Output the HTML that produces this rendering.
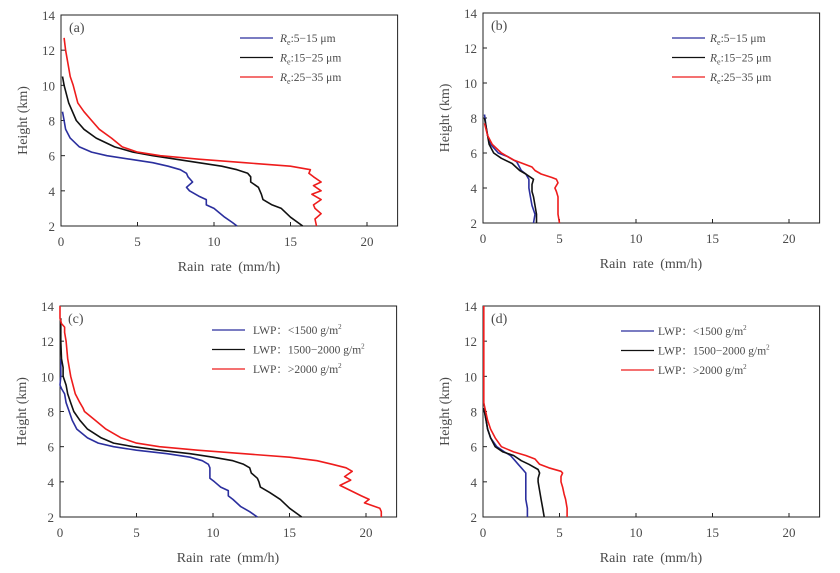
<!DOCTYPE html>
<html><head><meta charset="utf-8"><style>
html,body{margin:0;padding:0;background:#fff;}
svg{display:block;font-family:"Liberation Serif","Noto Serif CJK SC",serif;}
</style></head><body>
<svg id="fig" width="840" height="573" viewBox="0 0 840 573" xmlns="http://www.w3.org/2000/svg"></svg>
<script>
// ---- data ----
const xTicks = [0,5,10,15,20];
const yTicks = [2,4,6,8,10,12,14];
const legendRe = ["5\u221215  \u03bcm","15\u221225  \u03bcm","25\u221235  \u03bcm"];
const legendLwp = ["LWP\uff1a<1500  g/m","LWP\uff1a1500\u22122000  g/m","LWP\uff1a>2000  g/m"];
// panel a
const aBlueH=[8.5,8,7.5,7,6.5,6.2,6,5.8,5.6,5.4,5.2,5.0,4.8,4.5,4.2,4.0,3.7,3.5,3.2,3.0,2.5,2.2,2];
const aBlueR=[0.1,0.2,0.3,0.6,1.2,2,3,4.5,6,7,7.8,8.2,8.3,8.6,8.2,8.4,9.0,9.5,9.5,10.0,10.7,11.2,11.5];
const aBlackH=[10.5,10,9,8,7.5,7,6.5,6.2,6,5.8,5.6,5.4,5.2,5,4.8,4.5,4.2,3.8,3.5,3.2,3,2.5,2];
const aBlackR=[0.1,0.2,0.5,1,1.5,2.3,3.5,4.7,6,7.5,9,10.5,11.5,12.2,12.4,12.4,12.9,13.1,13.2,13.8,14.4,15,15.8];
const aRedH=[12.7,12,11,10.5,10,9,8.5,8,7.5,7,6.5,6.2,6,5.8,5.6,5.4,5.2,5.0,4.8,4.5,4.3,4.0,3.8,3.5,3.2,3.0,2.7,2.4,2];
const aRedR=[0.2,0.3,0.5,0.6,0.8,1.1,1.5,2,2.5,3.3,4,5,6.5,9,12,15,16.3,16.2,16.5,17,16.5,17,16.4,17,16.5,16.6,17,16.6,16.7];
// panel b
const bBlueH=[8.2,7.5,7,6.5,6,5.8,5.5,5.0,4.8,4.5,4.2,4.0,3.5,3,2.5,2];
const bBlueR=[0.1,0.2,0.3,0.5,1,1.6,2.2,2.5,2.8,3.0,3.0,3.0,3.1,3.2,3.4,3.3];
const bBlackH=[8,7.5,7,6.5,6,5.7,5.4,5.0,4.8,4.5,4.2,3.8,3.5,3,2.5,2];
const bBlackR=[0.1,0.2,0.3,0.4,0.7,1.2,1.9,2.4,2.8,3.3,3.2,3.2,3.3,3.4,3.5,3.5];
const bRedH=[7.7,7,6.5,6,5.6,5.4,5.2,5,4.8,4.6,4.5,4.3,4,3.8,3.5,3,2.5,2];
const bRedR=[0.1,0.3,0.6,1.2,2,2.6,3.2,3.4,3.8,4.5,4.8,4.9,4.7,4.8,4.9,4.9,4.9,5.0];
// panel c
const cBlueH=[11,10,9.5,9.3,9,8.5,8,7.5,7,6.5,6.2,6,5.8,5.6,5.4,5.2,5,4.8,4.5,4.2,4,3.7,3.5,3.2,3,2.6,2.3,2];
const cBlueR=[0.05,0.05,0.0,0.1,0.3,0.4,0.6,0.8,1.1,1.8,2.5,3.5,5,7,8.5,9.3,9.7,9.8,9.8,9.8,10.1,10.5,11,11,11.3,11.8,12.4,12.9];
const cBlackH=[13.3,12,11,10.5,10,9.5,9,8.5,8,7.5,7,6.5,6.2,6,5.8,5.6,5.4,5.2,5,4.8,4.5,4.2,4,3.7,3.4,3,2.5,2];
const cBlackR=[0.05,0.05,0.1,0.2,0.2,0.4,0.5,0.7,0.9,1.3,1.8,2.7,3.5,4.8,6.5,8.5,10,11.3,12,12.4,12.5,12.9,13,13.1,13.7,14.4,15,15.8];
const cRedH=[14,13.3,13,12.8,12.5,12,11,10,9,8.5,8.2,8,7.5,7,6.5,6.2,6,5.8,5.6,5.4,5.2,5,4.8,4.6,4.3,4.1,3.8,3.5,3.2,3.0,2.8,2.5,2.3,2];
const cRedR=[0.0,0.0,0.1,0.3,0.3,0.4,0.5,0.7,1.0,1.3,1.5,1.6,2.3,3,4,5,6.5,9,12,15,16.8,17.8,18.7,19.1,18.6,19,18.3,19,19.7,20.2,19.9,20.9,21,21];
// panel d
const dBlueH=[8.2,7.5,7,6.5,6,5.7,5.5,5.2,5,4.7,4.5,4.2,4,3.5,3,2.5,2];
const dBlueR=[0.05,0.2,0.3,0.5,0.9,1.4,1.8,2.1,2.3,2.6,2.8,2.8,2.8,2.8,2.8,2.9,2.9];
const dBlackH=[8.2,7.5,7,6.5,6,5.7,5.5,5.2,5,4.7,4.5,4.2,4,3.5,3,2.5,2];
const dBlackR=[0.05,0.2,0.3,0.5,0.8,1.3,2,2.5,3,3.6,3.7,3.6,3.6,3.7,3.8,3.9,4.0];
const dRedH=[14,8.5,8.3,7.5,7,6.5,6,5.7,5.5,5.3,5,4.8,4.6,4.5,4.3,4,3.7,3.3,3,2.5,2];
const dRedR=[0.05,0.05,0.1,0.3,0.5,0.8,1.2,2,2.8,3.4,3.7,4.3,5.1,5.2,5.1,5.1,5.2,5.3,5.4,5.5,5.5];

const NS="http://www.w3.org/2000/svg";
const svg=document.getElementById('fig');
function mk(tag,attrs,parent){const e=document.createElementNS(NS,tag);for(const k in attrs)e.setAttribute(k,attrs[k]);(parent||svg).appendChild(e);return e;}
const GRAY="#4a4a4a";
const panels=[
 {id:'a',L:61,T:15,B:226,lx:240,ly:38,lt:280,leg:legendRe,re:true,
  series:[[aBlueH,aBlueR,'#2b2f9e'],[aBlackH,aBlackR,'#111'],[aRedH,aRedR,'#ee1c1c']]},
 {id:'b',L:483,T:13,B:223,lx:672,ly:38,lt:710,leg:legendRe,re:true,
  series:[[bBlueH,bBlueR,'#2b2f9e'],[bBlackH,bBlackR,'#111'],[bRedH,bRedR,'#ee1c1c']]},
 {id:'c',L:60,T:306,B:517,lx:212,ly:330,lt:253,leg:legendLwp,re:false,
  series:[[cBlueH,cBlueR,'#2b2f9e'],[cBlackH,cBlackR,'#111'],[cRedH,cRedR,'#ee1c1c']]},
 {id:'d',L:483,T:306,B:517,lx:621,ly:331,lt:658,leg:legendLwp,re:false,
  series:[[dBlueH,dBlueR,'#2b2f9e'],[dBlackH,dBlackR,'#111'],[dRedH,dRedR,'#ee1c1c']]}
];
const names=['blue','black','red'];
panels.forEach(p=>{
  const kx=15.3, R=p.L+22*kx;
  const xs=v=>p.L+v*kx;
  const ys=h=>p.B-(h-2)*(p.B-p.T)/12;
  const g=mk('g',{});
  
  
  const frame=mk('rect',{x:p.L,y:p.T,width:R-p.L,height:p.B-p.T,fill:'none',stroke:'#222','stroke-width':1},g);
  
  
  xTicks.forEach(t=>{
    mk('line',{x1:xs(t),x2:xs(t),y1:p.B,y2:p.B-4,stroke:'#222'},g);
    const tx=mk('text',{x:xs(t),y:p.B+20,'text-anchor':'middle','font-size':13,fill:GRAY},g);
    tx.textContent=t;
    
    
  });
  yTicks.forEach(t=>{
    mk('line',{x1:p.L,x2:p.L+4,y1:ys(t),y2:ys(t),stroke:'#222'},g);
    const tx=mk('text',{x:p.L-6,y:ys(t)+5,'text-anchor':'end','font-size':13,fill:GRAY},g);
    tx.textContent=t;
    
    
  });
  const xt=mk('text',{x:p.L+168,y:p.B+45,'text-anchor':'middle','font-size':14,fill:GRAY,'word-spacing':'3px'},g);
  xt.textContent='Rain rate (mm/h)';
  
  
  const cy=(p.T+p.B)/2, cx=p.L-34;
  const yt=mk('text',{x:cx,y:cy,'text-anchor':'middle','font-size':14,fill:GRAY,transform:`rotate(-90 ${cx} ${cy})`},g);
  yt.textContent='Height (km)';
  
  
  const pl=mk('text',{x:p.L+8,y:p.T+17,'font-size':14,fill:GRAY},g);
  pl.textContent='('+p.id+')';
  
  
  p.series.forEach((s,i)=>{
    const [H,Rr,col]=s;
    const pts=H.map((h,j)=>xs(Rr[j]).toFixed(1)+','+ys(h).toFixed(1)).join(' ');
    const line=mk('polyline',{points:pts,fill:'none',stroke:col,'stroke-width':1.6,'stroke-linejoin':'round'},g);
    
    
    const yy=p.ly+i*19.5;
    const ll=mk('line',{x1:p.lx,x2:p.lx+33,y1:yy,y2:yy,stroke:col,'stroke-width':1.3},g);
    
    
    const lt=mk('text',{x:p.lt,y:yy+4,'font-size':11.5,fill:GRAY},g);
    
    
    if(p.re){
      const a=mk('tspan',{'font-style':'italic'},lt);a.textContent='R';
      const b=mk('tspan',{dy:3,'font-size':8},lt);b.textContent='e';
      const c=mk('tspan',{dy:-3},lt);c.textContent=':'+p.leg[i];
    } else {
      lt.appendChild(document.createTextNode(p.leg[i]));
      const sup=mk('tspan',{dy:-5,'font-size':7},lt);sup.textContent='2';
    }
  });
});
</script>
</body></html>
